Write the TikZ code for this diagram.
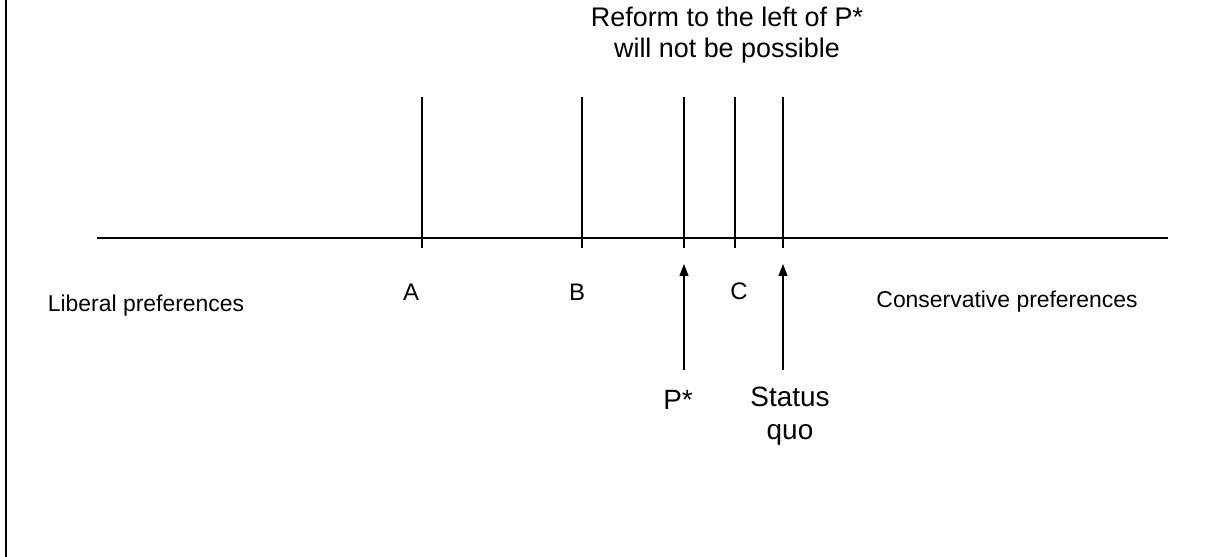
\documentclass[tikz,border=0pt]{standalone}
\usepackage{fontspec}
\setmainfont{Liberation Sans}
\usetikzlibrary{arrows.meta,positioning}

\begin{document}
\begin{tikzpicture}[x=1bp, y=-1bp, line width=1.2bp,
  lbl/.style={font=\fontsize{23}{27}\selectfont, inner sep=0pt},
  letter/.style={font=\fontsize{24}{28}\selectfont, inner sep=0pt},
  big/.style={font=\fontsize{28}{33}\selectfont, inner sep=0pt, align=center},
  arr/.style={-{Triangle[length=12bp, width=9bp]}}]
  \useasboundingbox (0,0) rectangle (1218,557);
  % frame edge and axis
  \draw (6,0) -- (6,557);
  \coordinate (axl) at (97,238);
  \coordinate (axr) at (1168,238);
  \draw (axl) -- (axr);
  % vertical markers
  \foreach \name/\x in {a/422, b/582, p/684, c/735, q/783} {
    \coordinate (\name top) at (\x,97);
    \coordinate (\name bot) at (\x,248);
    \draw (\name top) -- (\name bot);
  }
  \node[letter] (labA) at (411,292) {A};
  \node[letter] (labB) at (577,292) {B};
  \node[letter] (labC) at (739,291) {C};
  \node[lbl] (liberal) at (146,306) {Liberal preferences};
  \node[lbl] (conserv) at (1007,302) {Conservative preferences};
  \node[big, font=\fontsize{27}{32}\selectfont] (reform) at (727,35) {Reform to the left of P*\\will not be possible};
  % arrows from below
  \coordinate (ptail) at (684,370);
  \coordinate (phead) at (684,264);
  \coordinate (qtail) at (783,370);
  \coordinate (qhead) at (783,264);
  \draw[arr] (ptail) -- (phead);
  \draw[arr] (qtail) -- (qhead);
  \node[big] (pstar) at (678,400) {P*};
  \node[big] (squo) at (790,416) {Status\\quo};
\end{tikzpicture}
\end{document}
